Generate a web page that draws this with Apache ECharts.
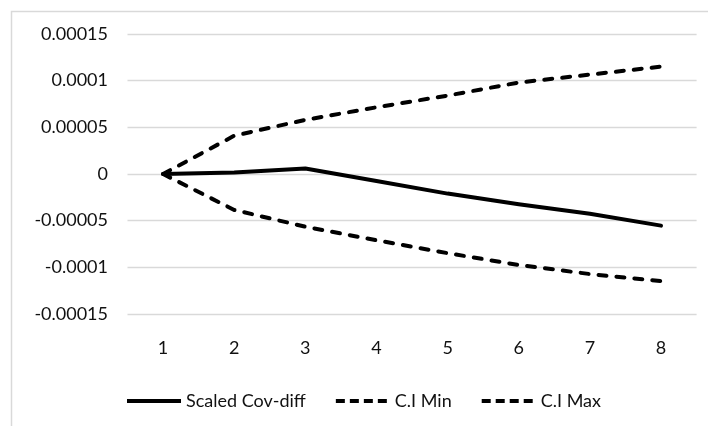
<!DOCTYPE html>
<html>
<head>
<meta charset="utf-8">
<style>
  html, body { margin: 0; padding: 0; background: #fff; }
  #chart { width: 708px; height: 426px; }
</style>
<script src="https://cdn.jsdelivr.net/npm/echarts@6/dist/echarts.min.js"></script>
</head>
<body>
<div id="chart"></div>
<script>
// Lag steps on the horizontal axis
const lags = ['1', '2', '3', '4', '5', '6', '7', '8'];

// Scaled covariance difference and its confidence bounds
const scaledCovDiff = [0, 0.0000015, 0.0000058, -0.0000075, -0.000021, -0.0000325, -0.0000425, -0.0000553];
const ciMin = [0, -0.0000385, -0.0000565, -0.000071, -0.0000848, -0.0000975, -0.0001072, -0.0001148];
const ciMax = [0, 0.000041, 0.000058, 0.0000715, 0.000084, 0.000098, 0.0001065, 0.000115];

// Value-axis tick labels, from bottom to top
const yTickValues = [-0.00015, -0.0001, -0.00005, 0, 0.00005, 0.0001, 0.00015];
const yTickLabels = ['-0.00015', '-0.0001', '-0.00005', '0', '0.00005', '0.0001', '0.00015'];

const FONT = 'Lato, "Open Sans", sans-serif';
const TEXT = '#111';

function tickLabel(v) {
  let best = 0;
  for (let i = 1; i < yTickValues.length; i++) {
    if (Math.abs(yTickValues[i] - v) < Math.abs(yTickValues[best] - v)) best = i;
  }
  return yTickLabels[best];
}

const chart = echarts.init(document.getElementById('chart'), null, { renderer: 'canvas' });

const solid = { color: '#000', width: 4, type: 'solid', cap: 'round', join: 'round' };
const dashed = { color: '#000', width: 4, type: [8, 10], cap: 'round', join: 'round' };
const legendSolid = { color: '#000', width: 4, type: 'solid', cap: 'butt' };
const legendDash = { color: '#000', width: 4, type: [9, 5], cap: 'butt' };

chart.setOption({
  animation: false,
  backgroundColor: '#fff',
  graphic: [{
    type: 'rect',
    silent: true,
    z: -10,
    shape: { x: 11.5, y: 11.5, width: 900, height: 600 },
    style: { fill: 'none', stroke: '#d9d9d9', lineWidth: 1.5 }
  }],
  grid: { left: 127.5, right: 11.4, top: 34, bottom: 112, containLabel: false },
  legend: {
    left: 125,
    top: 392,
    padding: 0,
    itemWidth: 54,
    itemHeight: 18,
    itemGap: 28,
    textStyle: { fontFamily: FONT, fontSize: 18, color: TEXT },
    itemStyle: { color: 'rgba(0,0,0,0)', borderWidth: 0, opacity: 0 },
    data: [
      { name: 'Scaled Cov-diff', lineStyle: legendSolid },
      { name: 'C.I Min', lineStyle: legendDash },
      { name: 'C.I Max', lineStyle: legendDash }
    ]
  },
  xAxis: {
    type: 'category',
    data: lags,
    boundaryGap: true,
    axisLine: { show: false },
    axisTick: { show: false },
    splitLine: { show: false },
    axisLabel: { fontFamily: FONT, fontSize: 18, color: TEXT, margin: 25 }
  },
  yAxis: {
    type: 'value',
    min: -0.00015,
    max: 0.00015,
    interval: 0.00005,
    axisLine: { show: false },
    axisTick: { show: false },
    splitLine: { lineStyle: { color: '#d9d9d9', width: 1.3 } },
    axisLabel: {
      fontFamily: FONT, fontSize: 18, color: TEXT, margin: 19.5,
      formatter: tickLabel
    }
  },
  series: [
    {
      name: 'Scaled Cov-diff', type: 'line', data: scaledCovDiff,
      symbol: 'none', lineStyle: solid, itemStyle: { color: '#000' }, z: 3
    },
    {
      name: 'C.I Min', type: 'line', data: ciMin,
      symbol: 'none', lineStyle: dashed, itemStyle: { color: '#000' }, z: 2
    },
    {
      name: 'C.I Max', type: 'line', data: ciMax,
      symbol: 'none', lineStyle: dashed, itemStyle: { color: '#000' }, z: 2
    }
  ]
});
</script>
</body>
</html>
